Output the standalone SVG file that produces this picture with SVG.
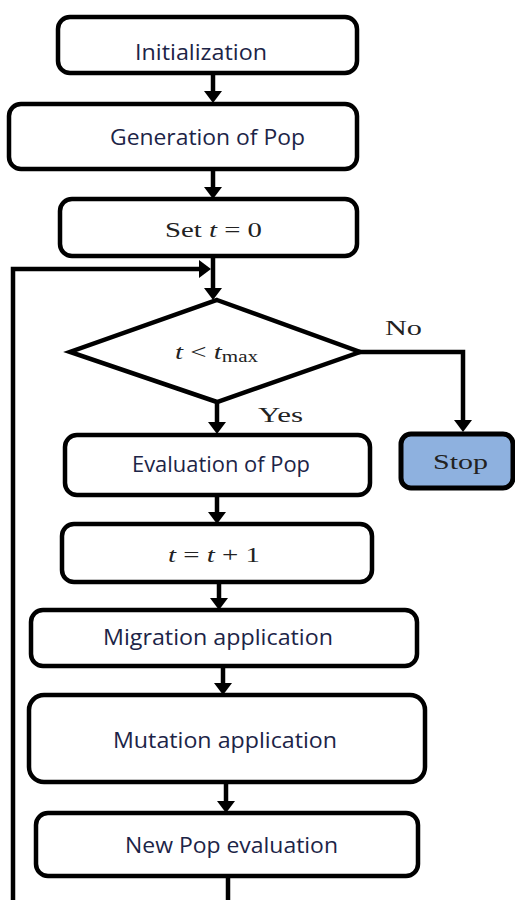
<svg xmlns="http://www.w3.org/2000/svg" width="515" height="900" viewBox="0 0 515 900">
  <style>
    .box { fill: #ffffff; stroke: #000000; stroke-width: 4.5; }
    .stop { fill: #8eb1df; stroke: #000000; stroke-width: 5; }
    .lbl { font-family: "Open Sans", "Liberation Sans", sans-serif; font-size: 22px; fill: #1c2447; text-anchor: middle; }
    .math { font-family: "Liberation Serif", "DejaVu Serif", serif; font-size: 22px; fill: #222222; text-anchor: middle; }
    .edge { fill: none; stroke: #000000; stroke-width: 4.5; }
  </style>
  <defs>
    <!-- filled head; line ends 5px short of the tip -->
    <marker id="arr" viewBox="0 0 12 18" refX="7" refY="9" markerWidth="12" markerHeight="18" markerUnits="userSpaceOnUse" orient="auto">
      <path d="M0,0 L12,9 L0,18 Z" fill="#000000"/>
    </marker>
  </defs>

  <rect width="515" height="900" fill="#ffffff"/>

  <!-- connectors -->
  <g id="connectors">
    <line class="edge" x1="213" y1="73" x2="213" y2="98" marker-end="url(#arr)"/>
    <line class="edge" x1="213" y1="168" x2="213" y2="194" marker-end="url(#arr)"/>
    <line class="edge" x1="213" y1="256" x2="213" y2="295" marker-end="url(#arr)"/>
    <!-- loop back from the bottom -->
    <polyline class="edge" points="228,876 228,902"/>
    <polyline class="edge" points="13,902 13,269 206,269" marker-end="url(#arr)"/>
    <!-- No branch -->
    <polyline class="edge" points="358,352 463,352 463,427" marker-end="url(#arr)"/>
    <!-- Yes branch -->
    <line class="edge" x1="217" y1="402" x2="217" y2="429" marker-end="url(#arr)"/>
    <line class="edge" x1="217" y1="495" x2="217" y2="519" marker-end="url(#arr)"/>
    <line class="edge" x1="219" y1="582" x2="219" y2="605" marker-end="url(#arr)"/>
    <line class="edge" x1="223" y1="666" x2="223" y2="690" marker-end="url(#arr)"/>
    <line class="edge" x1="226" y1="782" x2="226" y2="808" marker-end="url(#arr)"/>
    <text x="403.5" y="335" class="math" textLength="37" lengthAdjust="spacingAndGlyphs">No</text>
    <text x="280.5" y="422" class="math" textLength="45" lengthAdjust="spacingAndGlyphs">Yes</text>
  </g>

  <g id="init">
    <rect class="box" x="58" y="17" width="299" height="56" rx="12"/>
    <text class="lbl" x="201" y="60" textLength="132" lengthAdjust="spacingAndGlyphs">Initialization</text>
  </g>

  <g id="generate">
    <rect class="box" x="9" y="104" width="348" height="65" rx="12"/>
    <text class="lbl" x="207.5" y="145" textLength="195" lengthAdjust="spacingAndGlyphs">Generation of Pop</text>
  </g>

  <g id="set-t">
    <rect class="box" x="60" y="199" width="297" height="57" rx="12"/>
    <text class="math" x="213.5" y="237" textLength="97" lengthAdjust="spacingAndGlyphs">Set <tspan font-style="italic">t</tspan> = 0</text>
  </g>

  <g id="condition">
    <polygon class="box" points="217,300 360,352 217,402 70,352"/>
    <text class="math" x="216.5" y="359" textLength="83" lengthAdjust="spacingAndGlyphs"><tspan font-style="italic">t</tspan> &lt; <tspan font-style="italic">t</tspan><tspan font-size="16" dy="3">max</tspan></text>
  </g>

  <g id="stop">
    <rect class="stop" x="401" y="434" width="112" height="54" rx="10"/>
    <text class="math" x="460.5" y="469" font-size="24" textLength="55" lengthAdjust="spacingAndGlyphs">Stop</text>
  </g>

  <g id="evaluate">
    <rect class="box" x="65" y="435" width="305" height="60" rx="12"/>
    <text class="lbl" x="221" y="472" textLength="178" lengthAdjust="spacingAndGlyphs">Evaluation of Pop</text>
  </g>

  <g id="increment">
    <rect class="box" x="62" y="524" width="310" height="58" rx="12"/>
    <text class="math" x="214" y="562" font-size="23" textLength="92" lengthAdjust="spacingAndGlyphs"><tspan font-style="italic">t</tspan> = <tspan font-style="italic">t</tspan> + 1</text>
  </g>

  <g id="migration">
    <rect class="box" x="31" y="610" width="386" height="56" rx="12"/>
    <text class="lbl" x="218" y="645" textLength="230" lengthAdjust="spacingAndGlyphs">Migration application</text>
  </g>

  <g id="mutation">
    <rect class="box" x="29" y="695" width="396" height="87" rx="15"/>
    <text class="lbl" x="225" y="748" textLength="224" lengthAdjust="spacingAndGlyphs">Mutation application</text>
  </g>

  <g id="new-eval">
    <rect class="box" x="36" y="813" width="382" height="63" rx="12"/>
    <text class="lbl" x="231.5" y="853" textLength="213" lengthAdjust="spacingAndGlyphs">New Pop evaluation</text>
  </g>
</svg>
